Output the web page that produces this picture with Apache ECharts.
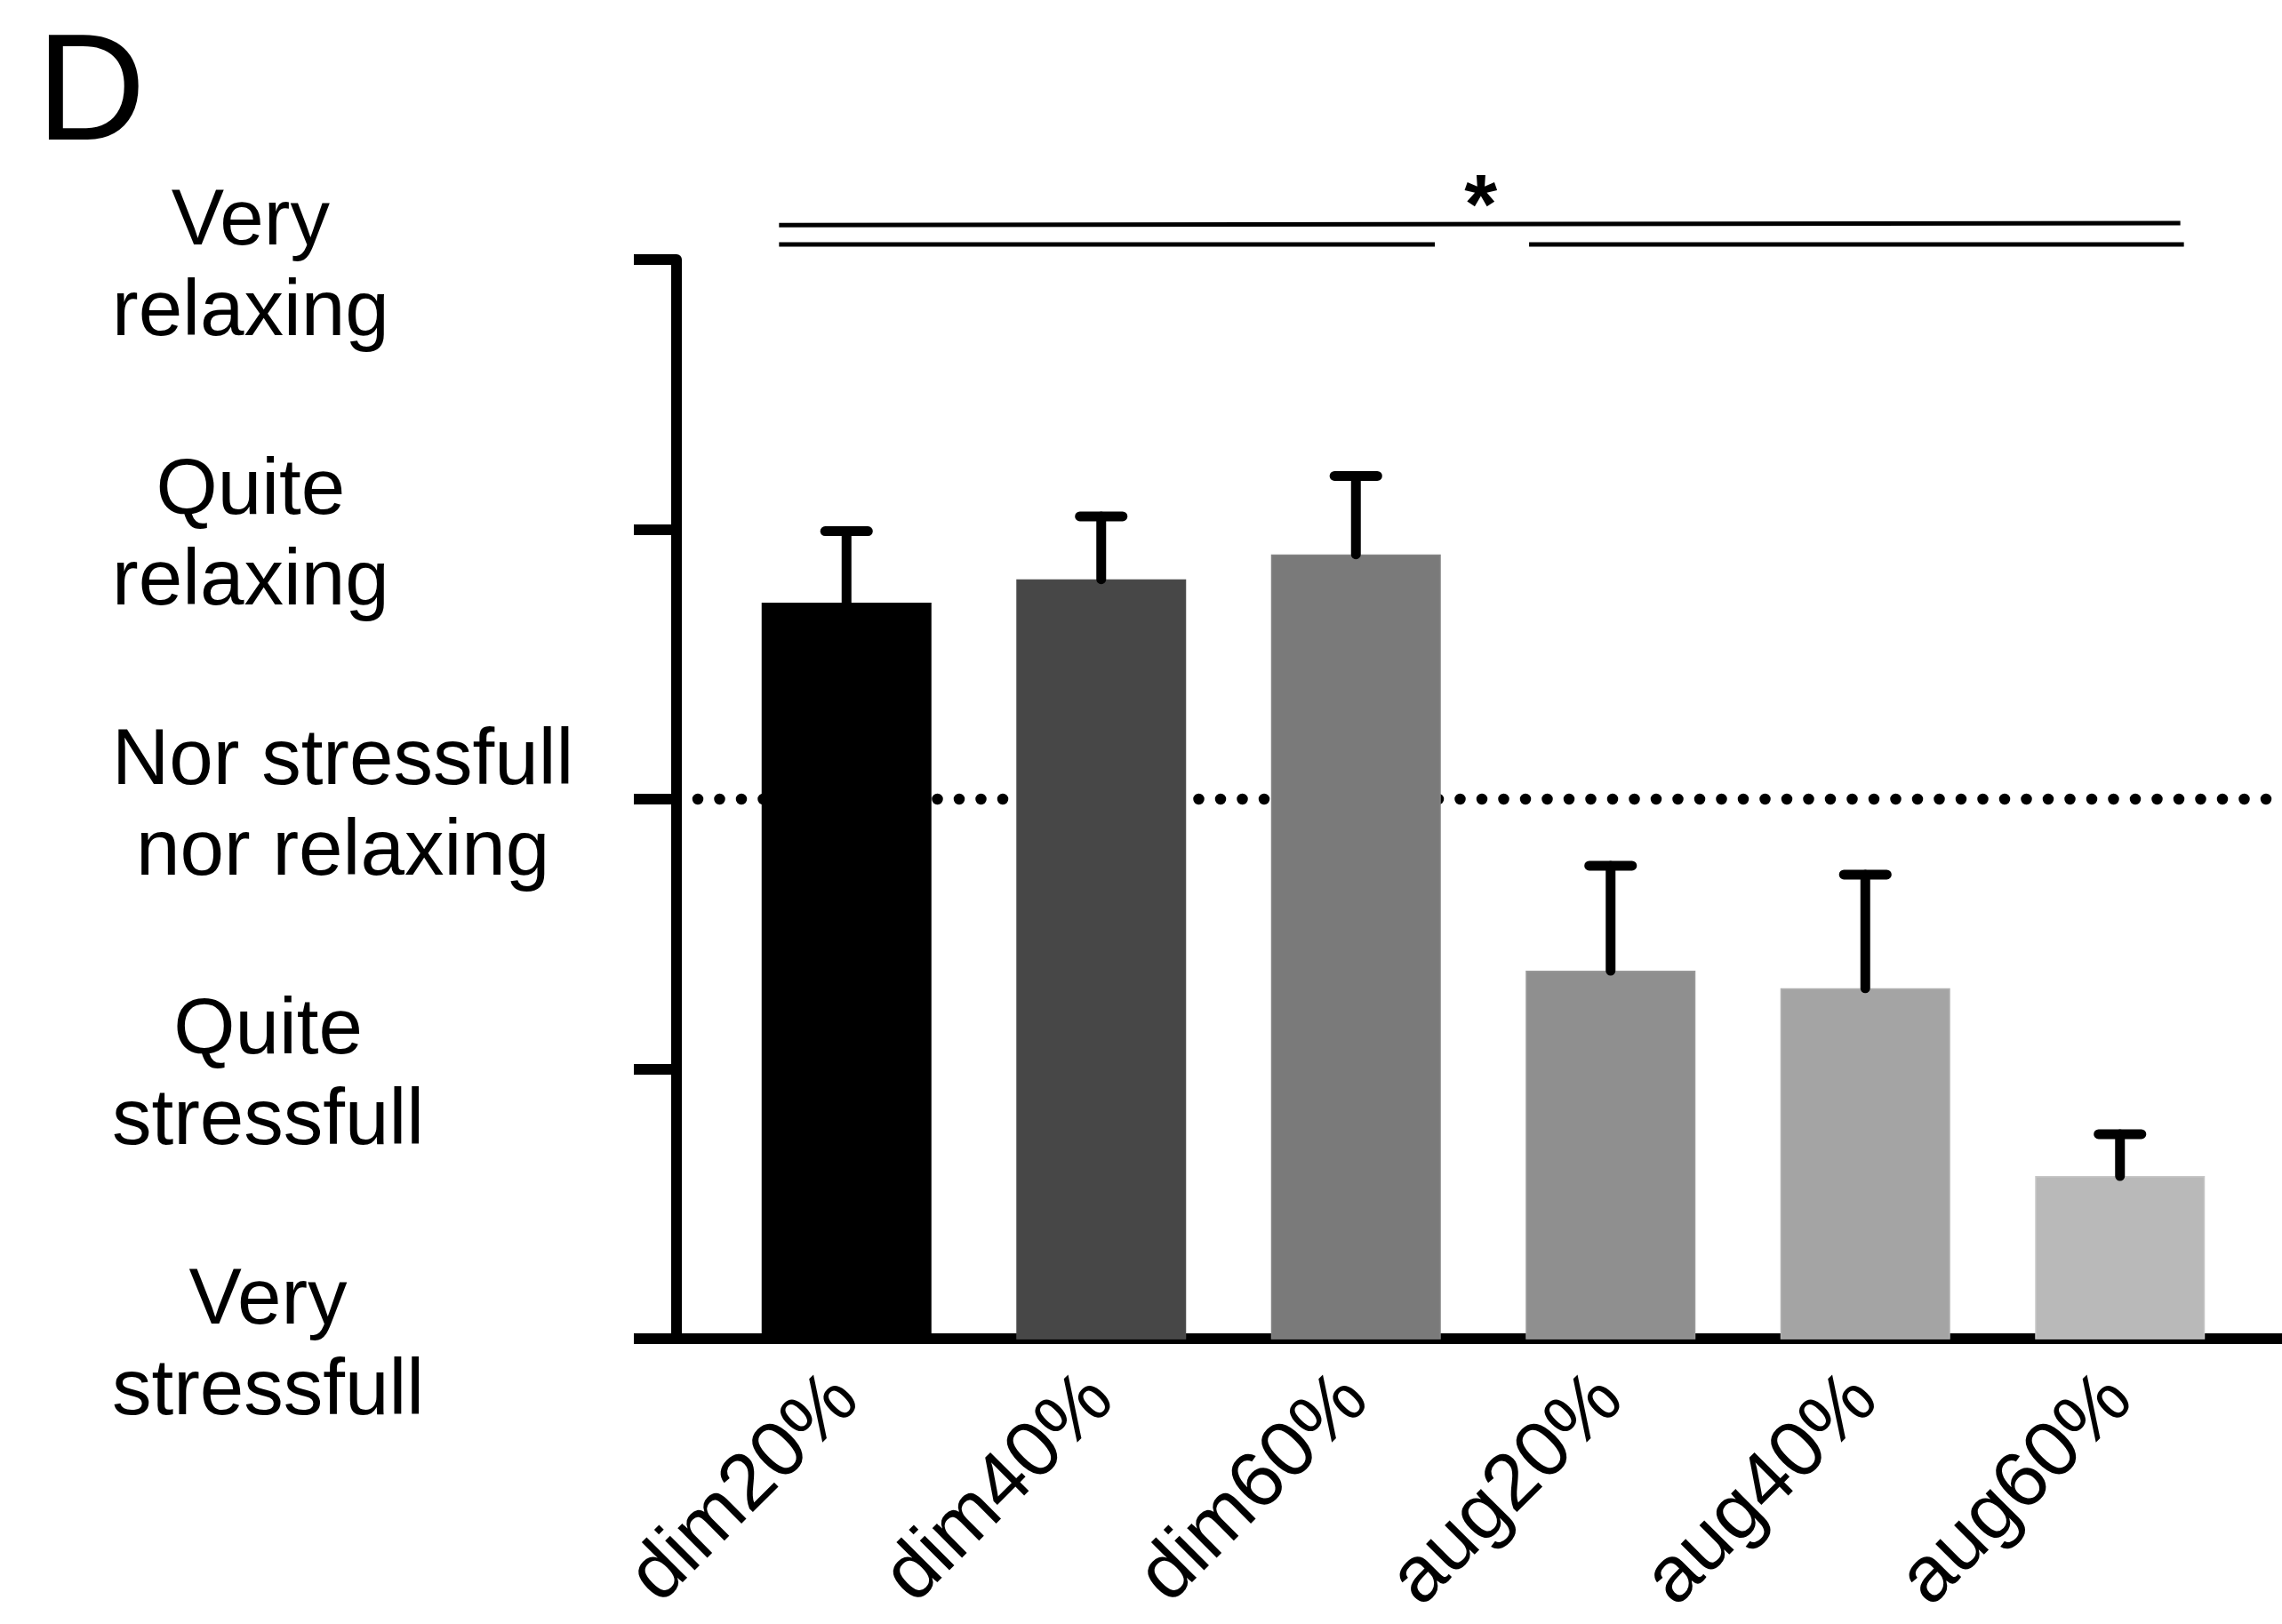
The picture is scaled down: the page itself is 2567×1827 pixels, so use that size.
<!DOCTYPE html>
<html>
<head>
<meta charset="utf-8">
<script src="https://cdn.jsdelivr.net/npm/echarts@6/dist/echarts.min.js"></script>
<style>
html,body{margin:0;padding:0;background:#fff;}
#chart{width:2567px;height:1827px;}
</style>
</head>
<body>
<div id="chart"></div>
<script>
// ---- data ----
const categories = ['dim20%', 'dim40%', 'dim60%', 'aug20%', 'aug40%', 'aug60%'];
const means = [3.728, 3.815, 3.907, 2.364, 2.299, 1.603];
const errors = [0.265, 0.233, 0.291, 0.389, 0.421, 0.155];
const barColors = ['#000000', '#474747', '#7a7a7a', '#8f8f8f', '#a4a4a4', '#b9b9b9'];
const yTickValues = [1, 2, 3, 4, 5];
const yTickLabels = ['Very\nstressfull', 'Quite\nstressfull', 'Nor stressfull\nnor relaxing', 'Quite\nrelaxing', 'Very\nrelaxing'];
const neutralLevel = 3;
// significance brackets: [xStart, yStart, xEnd, yEnd] in category-index / rating units
const sigLines = [[-0.265, 5.128, 5.237, 5.135], [-0.265, 5.056, 2.31, 5.056], [2.68, 5.056, 5.251, 5.056]];
const sigMarks = [[2.49, 5.25, '*']];
const panelLabel = 'D';

// ---- chart ----
const FONT = "'Liberation Sans', Arial, Helvetica, sans-serif";
const chart = echarts.init(document.getElementById('chart'), null, {renderer: 'canvas'});
const TOP = 292, BOTTOM = 321;

const option = {
  animation: false,
  backgroundColor: '#ffffff',
  title: {
    text: panelLabel, left: 36, top: 20,
    textStyle: {fontSize: 170, fontWeight: 'normal', color: '#000', fontFamily: FONT}
  },
  grid: [
    {left: 761, right: 0, top: TOP, bottom: BOTTOM},
    {left: 809, right: 39, top: TOP, bottom: BOTTOM}
  ],
  xAxis: [
    {gridIndex: 0, type: 'value', min: 0, max: 1,
     axisLine: {show: true, onZero: false, lineStyle: {color: '#000', width: 12}},
     axisTick: {show: false}, axisLabel: {show: false}, splitLine: {show: false}},
    {gridIndex: 1, type: 'category', data: categories,
     axisLine: {show: false}, axisTick: {show: false}, splitLine: {show: false},
     axisLabel: {interval: 0, rotate: 45, margin: 55, fontSize: 89, color: '#000', fontFamily: FONT}},
    {gridIndex: 1, type: 'value', min: -0.5, max: 5.5, show: false}
  ],
  yAxis: [
    {gridIndex: 0, type: 'value', min: 1, max: 5, interval: 1,
     axisLine: {show: true, onZero: false, lineStyle: {color: '#000', width: 12}},
     axisTick: {show: true, length: 48, lineStyle: {color: '#000', width: 12}},
     splitLine: {show: false},
     axisLabel: {
       align: 'left', verticalAlign: 'middle', margin: 635, padding: [18, 0, 0, 0],
       formatter: function (v) {
         const i = yTickValues.indexOf(v);
         if (i < 0) return '';
         return yTickLabels[i].split('\n').map(s => '{c|' + s + '}').join('\n');
       },
       rich: {c: {align: 'center', fontSize: 89, lineHeight: 102, color: '#000', fontFamily: FONT}}
     }},
    {gridIndex: 1, type: 'value', min: 1, max: 5, interval: 1, show: false}
  ],
  series: [
    {
      type: 'custom', name: 'neutral', xAxisIndex: 0, yAxisIndex: 0, z: 1, silent: true,
      data: [[0, neutralLevel]],
      renderItem: function (params, api) {
        const p = api.coord([0, api.value(1)]);
        const cs = params.coordSys;
        return {
          type: 'line',
          shape: {x1: cs.x + 24, y1: p[1], x2: cs.x + cs.width, y2: p[1]},
          style: {stroke: '#000', lineWidth: 12.5, lineDash: [0, 24.5], lineCap: 'round'}
        };
      }
    },
    {
      type: 'bar', name: 'rating', xAxisIndex: 1, yAxisIndex: 1, z: 2, barWidth: 191, silent: true,
      data: means.map((v, i) => ({
        value: v,
        itemStyle: {color: barColors[i], borderColor: echarts.color.lift(barColors[i], -0.08), borderWidth: 1.5}
      }))
    },
    {
      type: 'custom', name: 'error', xAxisIndex: 1, yAxisIndex: 1, z: 3, silent: true,
      data: means.map((m, i) => [i, m, errors[i]]),
      renderItem: function (params, api) {
        const base = api.coord([api.value(0), api.value(1)]);
        const top = api.coord([api.value(0), api.value(1) + api.value(2)]);
        const half = api.size([1, 0])[0] * 0.084;
        const st = {stroke: '#000', lineWidth: 11, lineCap: 'round'};
        return {
          type: 'group',
          children: [
            {type: 'line', shape: {x1: base[0], y1: base[1], x2: top[0], y2: top[1]}, style: st},
            {type: 'line', shape: {x1: top[0] - half, y1: top[1], x2: top[0] + half, y2: top[1]}, style: st}
          ]
        };
      }
    },
    {
      type: 'custom', name: 'sig', xAxisIndex: 2, yAxisIndex: 1, z: 3, clip: false, silent: true,
      data: sigLines,
      renderItem: function (params, api) {
        const a = api.coord([api.value(0), api.value(1)]);
        const b = api.coord([api.value(2), api.value(3)]);
        return {
          type: 'line',
          shape: {x1: a[0], y1: a[1], x2: b[0], y2: b[1]},
          style: {stroke: '#000', lineWidth: 5}
        };
      }
    },
    {
      type: 'custom', name: 'sigmark', xAxisIndex: 2, yAxisIndex: 1, z: 3, clip: false, silent: true,
      data: sigMarks.map(d => [d[0], d[1]]),
      renderItem: function (params, api) {
        const p = api.coord([api.value(0), api.value(1)]);
        return {
          type: 'text', x: p[0], y: p[1] + 20,
          style: {text: sigMarks[params.dataIndex][2], fontSize: 95, fontWeight: 'bold', fontFamily: FONT,
                  fill: '#000', align: 'center', verticalAlign: 'middle'}
        };
      }
    }
  ]
};
chart.setOption(option);
</script>
</body>
</html>
